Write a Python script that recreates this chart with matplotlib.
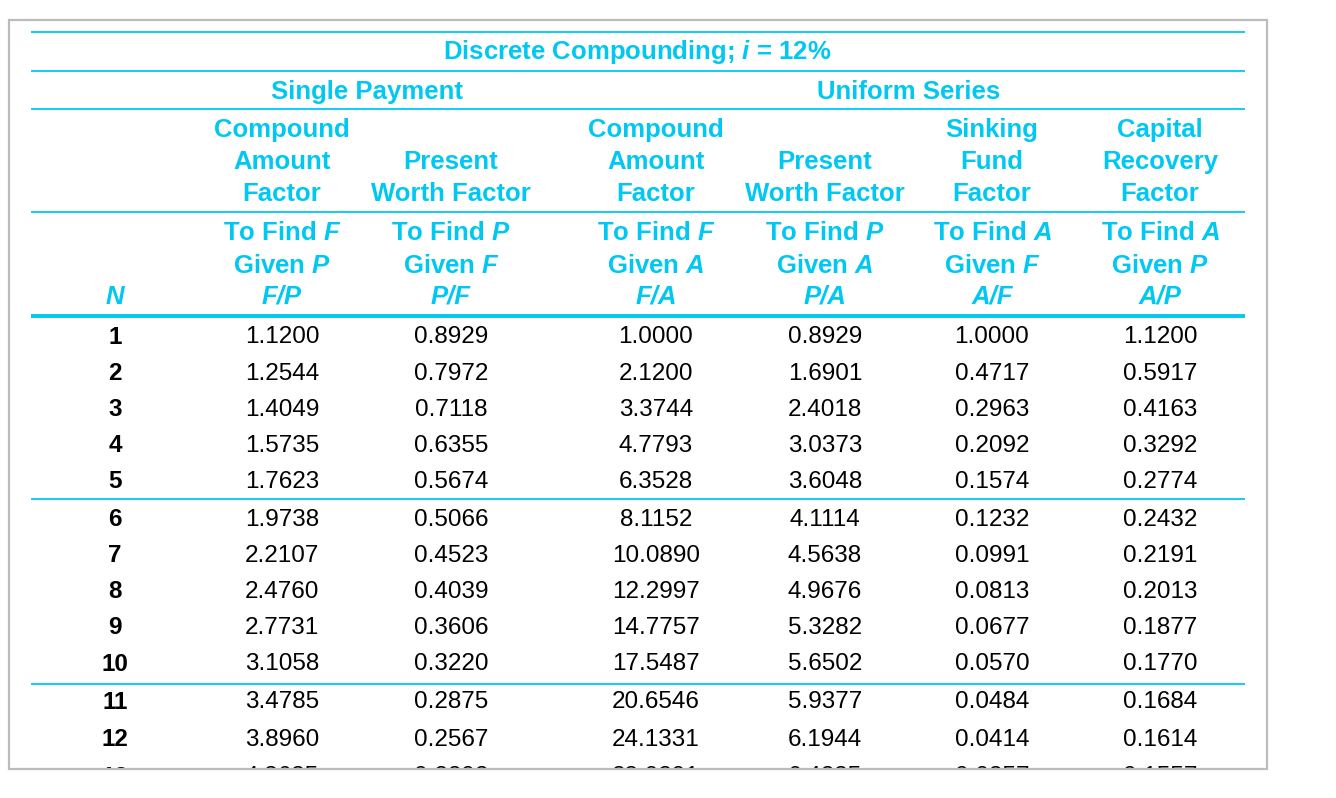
import matplotlib
matplotlib.use('Agg')
from matplotlib import pyplot as plt
from matplotlib.patches import Rectangle

plt.rcParams['font.family'] = ['Liberation Sans', 'DejaVu Sans']
plt.rcParams['mathtext.fontset'] = 'custom'
plt.rcParams['mathtext.it'] = 'Liberation Sans:italic:bold'
plt.rcParams['mathtext.rm'] = 'Liberation Sans:bold'

cyan = '#00c8f2'

title = 'Discrete Compounding; $i$ = 12%'
groups = ['Single Payment', 'Uniform Series']
factor_names = ['Compound\nAmount\nFactor', 'Present\nWorth Factor',
                'Compound\nAmount\nFactor', 'Present\nWorth Factor',
                'Sinking\nFund\nFactor', 'Capital\nRecovery\nFactor']
find_lines = ['To Find $F$', 'To Find $P$', 'To Find $F$',
              'To Find $P$', 'To Find $A$', 'To Find $A$']
given_lines = ['Given $P$', 'Given $F$', 'Given $A$',
               'Given $A$', 'Given $F$', 'Given $P$']
symbols = ['F/P', 'P/F', 'F/A', 'P/A', 'A/F', 'A/P']

N = [1, 2, 3, 4, 5, 6, 7, 8, 9, 10, 11, 12, 13]
FP = [1.1200, 1.2544, 1.4049, 1.5735, 1.7623, 1.9738, 2.2107, 2.4760, 2.7731,
      3.1058, 3.4785, 3.8960, 4.3635]
PF = [0.8929, 0.7972, 0.7118, 0.6355, 0.5674, 0.5066, 0.4523, 0.4039, 0.3606,
      0.3220, 0.2875, 0.2567, 0.2292]
FA = [1.0000, 2.1200, 3.3744, 4.7793, 6.3528, 8.1152, 10.0890, 12.2997, 14.7757,
      17.5487, 20.6546, 24.1331, 28.0291]
PA = [0.8929, 1.6901, 2.4018, 3.0373, 3.6048, 4.1114, 4.5638, 4.9676, 5.3282,
      5.6502, 5.9377, 6.1944, 6.4235]
AF = [1.0000, 0.4717, 0.2963, 0.2092, 0.1574, 0.1232, 0.0991, 0.0813, 0.0677,
      0.0570, 0.0484, 0.0414, 0.0357]
AP = [1.1200, 0.5917, 0.4163, 0.3292, 0.2774, 0.2432, 0.2191, 0.2013, 0.1877,
      0.1770, 0.1684, 0.1614, 0.1557]
columns = [FP, PF, FA, PA, AF, AP]

# layout in pixels
W, H = 1336, 798
col_x = [282, 451, 656, 825, 992, 1160]
n_x = 115
group_x = [367, 909]
x0, x1 = 31, 1245
dy = 2  # va='center' sits a touch high
row_y = [335, 371.5, 407.5, 443.5, 479.5, 517.5, 554, 590, 626, 662.5, 700.5, 737.5, 775]

fig = plt.figure(figsize=(W / 100, H / 100), dpi=100)
ax = fig.add_axes([0, 0, 1, 1])
ax.set_xlim(0, W)
ax.set_ylim(H, 0)
ax.axis('off')

for y, lw in [(32, 1.3), (71, 1.3), (109, 1.3), (212, 1.3), (315.5, 2.8),
              (499, 1.3), (684, 1.3)]:
    ax.plot([x0, x1], [y, y], color=cyan, lw=lw, solid_capstyle='butt')

hdr = dict(color=cyan, fontsize=18.5, fontweight='bold', ha='center', va='center')
ax.text(637, 50 + dy, title, **hdr)
for gx, g in zip(group_x, groups):
    ax.text(gx, 90 + dy, g, **hdr)

for cx, name in zip(col_x, factor_names):
    lines = name.split('\n')
    ys = [128, 160, 192][-len(lines):]
    for y, t in zip(ys, lines):
        ax.text(cx, y + dy, t, **hdr)

for cx, f, g, s in zip(col_x, find_lines, given_lines, symbols):
    ax.text(cx, 231 + dy, f, **hdr)
    ax.text(cx, 264 + dy, g, **hdr)
    ax.text(cx, 295 + dy, s, fontstyle='italic', **hdr)
ax.text(n_x, 295 + dy, 'N', fontstyle='italic', **hdr)

for i, n in enumerate(N):
    y = row_y[i] + dy
    ax.text(n_x, y, str(n), fontsize=17.5, fontweight='bold', color='black',
            ha='center', va='center')
    for cx, col in zip(col_x, columns):
        ax.text(cx, y, f'{col[i]:.4f}', fontsize=17.5, color='black',
                ha='center', va='center')

# mask below the frame so the last row is cut off
ax.add_patch(Rectangle((0, 769), W, H - 769, facecolor='white', edgecolor='none', zorder=5))
ax.add_patch(Rectangle((9, 20), 1258, 748.5, facecolor='none', edgecolor='#bcbcbc',
                       lw=1.6, zorder=6))

plt.savefig('out.png', dpi=100)
